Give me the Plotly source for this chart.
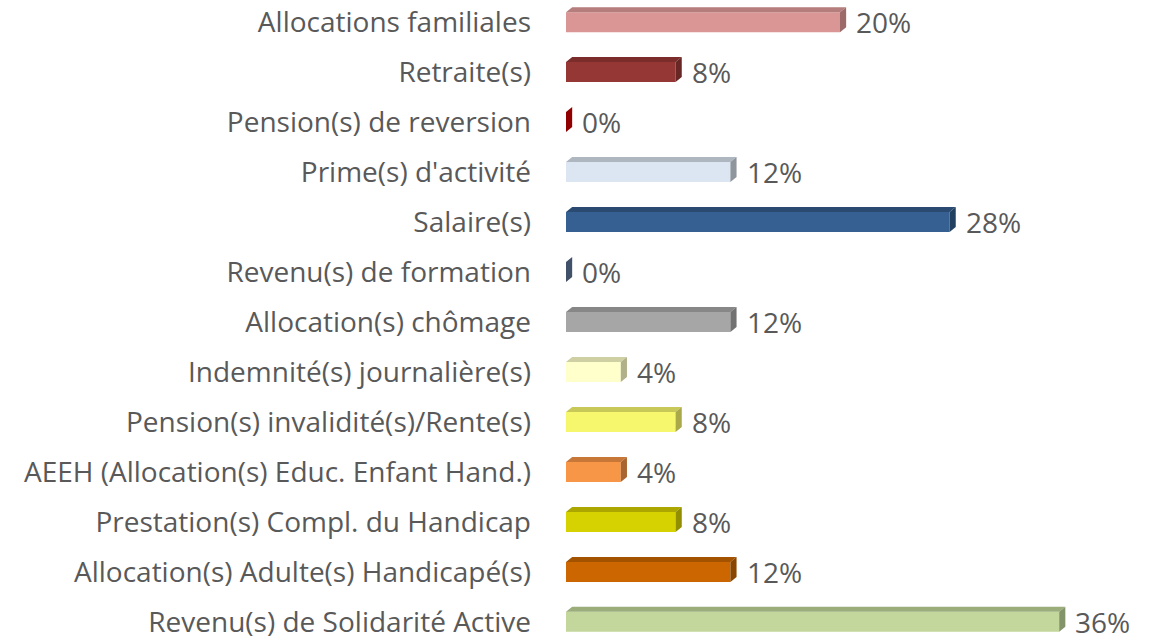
import plotly.graph_objects as go

categories = [
    "Allocations familiales",
    "Retraite(s)",
    "Pension(s) de reversion",
    "Prime(s) d'activité",
    "Salaire(s)",
    "Revenu(s) de formation",
    "Allocation(s) chômage",
    "Indemnité(s) journalière(s)",
    "Pension(s) invalidité(s)/Rente(s)",
    "AEEH (Allocation(s) Educ. Enfant Hand.)",
    "Prestation(s) Compl. du Handicap",
    "Allocation(s) Adulte(s) Handicapé(s)",
    "Revenu(s) de Solidarité Active",
]
values = [20, 8, 0, 12, 28, 0, 12, 4, 8, 4, 8, 12, 36]
front_colors = ["#D99694", "#953735", "#C00000", "#DCE6F2", "#376092", "#5B7396",
                "#A6A6A6", "#FFFFCC", "#F7F76E", "#F79646", "#D6D100", "#CC6600", "#C3D69B"]
top_colors = ["#B57D7B", "#7A2D2B", "#A00000", "#AEB6BF", "#2A4A72", "#4A5E7A",
              "#878787", "#CFCFA4", "#C8C858", "#C77838", "#ABA700", "#A35200", "#9CAD7C"]
side_colors = ["#9C6B69", "#682624", "#900000", "#8E959C", "#22405F", "#405169",
               "#727272", "#B0B08A", "#A9A94A", "#A8652F", "#918E00", "#8A4500", "#84946A"]

FONT = "Open Sans"
TXT = "#595959"
bar_w = 0.4     # front face height (y units)
dx = 0.45       # depth in x (%)
dy = 0.1        # depth in y (rows)

fig = go.Figure()
ys = list(range(len(categories)))

# front faces
fig.add_trace(go.Bar(
    x=values, y=ys, orientation="h", width=bar_w,
    marker=dict(color=front_colors, line=dict(width=0)),
    hoverinfo="skip", showlegend=False,
))

for i, v in enumerate(values):
    top = i - bar_w / 2
    bot = i + bar_w / 2
    # top face
    if v > 0:
        fig.add_trace(go.Scatter(
            x=[0, v, v + dx, dx, 0], y=[top, top, top - dy, top - dy, top],
            fill="toself", fillcolor=top_colors[i], mode="lines",
            line=dict(width=0), hoverinfo="skip", showlegend=False,
        ))
    # side face
    fig.add_trace(go.Scatter(
        x=[v, v + dx, v + dx, v, v], y=[top, top - dy, bot - dy, bot, top],
        fill="toself", fillcolor=side_colors[i], mode="lines",
        line=dict(width=0), hoverinfo="skip", showlegend=False,
    ))
    fig.add_annotation(
        x=v + dx, y=i, text=f"{v}%", showarrow=False,
        xanchor="left", yanchor="middle", xshift=8, yshift=0,
        font=dict(family=FONT, size=28, color=TXT),
    )

fig.update_layout(
    width=1160, height=640,
    margin=dict(l=566, r=0, t=0, b=0),
    paper_bgcolor="white", plot_bgcolor="white",
    font=dict(family=FONT, size=28, color=TXT),
    xaxis=dict(range=[0, 43.36], visible=False, fixedrange=True),
    yaxis=dict(
        range=[12.263, -0.443], tickvals=ys, ticktext=categories,
        showgrid=False, zeroline=False, showline=False, ticks="",
        ticklabelstandoff=34, ticklabeloverflow="allow", fixedrange=True,
    ),
)

fig.write_html("out.html", config={"displayModeBar": False},
               post_script="document.body.style.margin='0';document.body.style.overflow='hidden';")
